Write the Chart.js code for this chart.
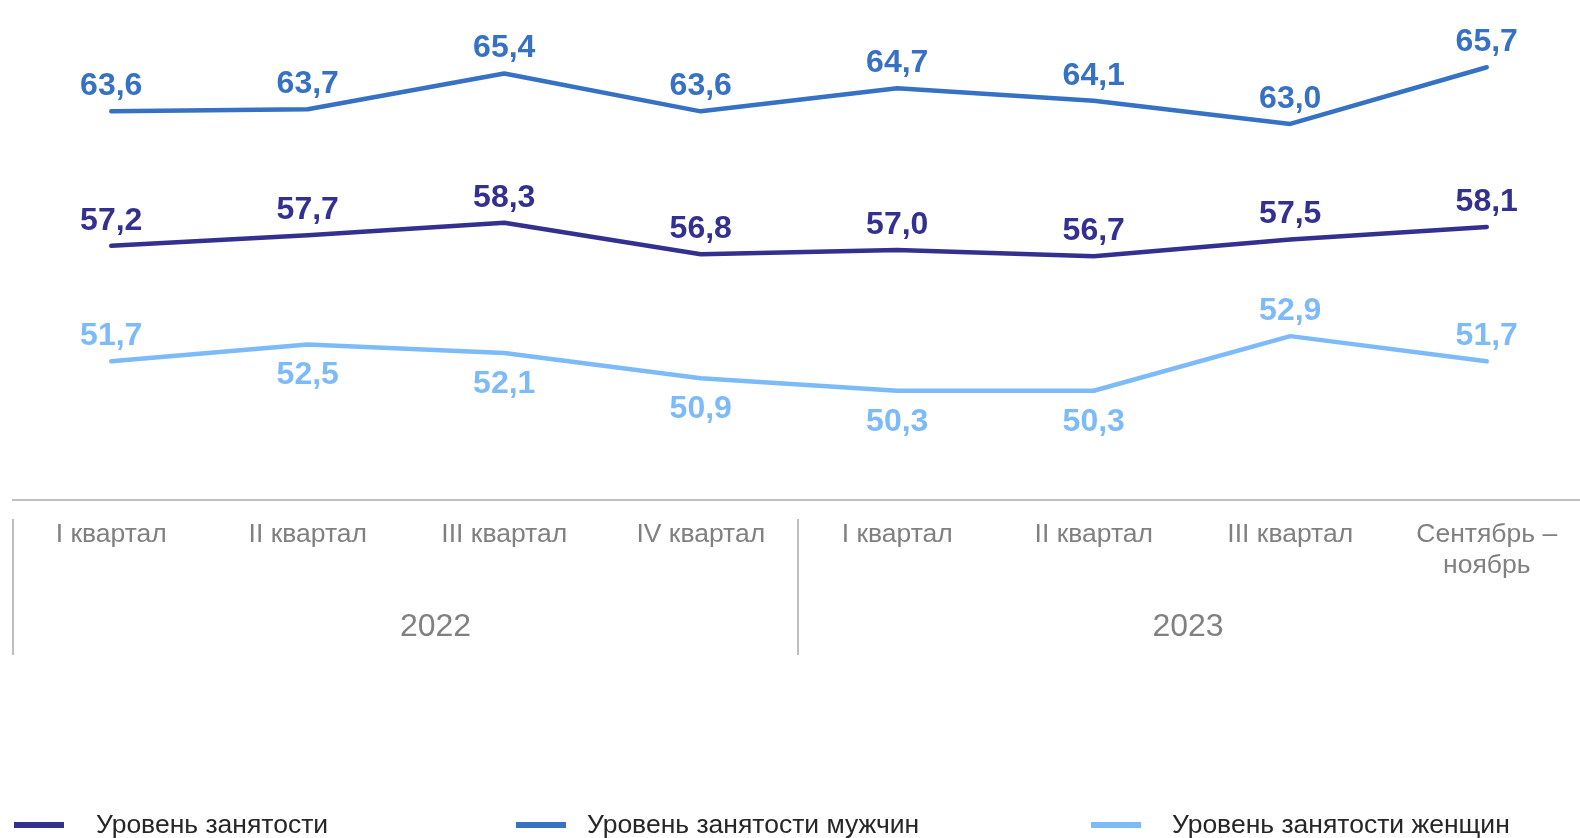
<!DOCTYPE html>
<html>
<head>
<meta charset="utf-8">
<script src="https://cdn.jsdelivr.net/npm/chart.js@4"></script>
<style>
  html, body { margin: 0; padding: 0; background: #fff; overflow: hidden; }
  canvas { display: block; }
</style>
</head>
<body>
<canvas id="chart" width="1585" height="838"></canvas>
<script>
// Categories (quarters) and the year groups they belong to
const categories = [
  'I квартал', 'II квартал', 'III квартал', 'IV квартал',
  'I квартал', 'II квартал', 'III квартал', ['Сентябрь –', 'ноябрь']
];
const years = ['2022', '2023'];
const yearStart = [0, 4];       // first category index of each year
const yearCenter = [1.65, 5.48]; // where the year caption sits, in category units

// Series values, %
const total = [57.2, 57.7, 58.3, 56.8, 57.0, 56.7, 57.5, 58.1];
const men = [63.6, 63.7, 65.4, 63.6, 64.7, 64.1, 63.0, 65.7];
const women = [51.7, 52.5, 52.1, 50.9, 50.3, 50.3, 52.9, 51.7];

const seriesNames = ['Уровень занятости', 'Уровень занятости мужчин', 'Уровень занятости женщин'];
const colors = ['#33308f', '#3671c4', '#7dbaf8'];

// which side of the line each value label goes
const labelSide = [
  ['above', 'above', 'above', 'above', 'above', 'above', 'above', 'above'],
  ['above', 'above', 'above', 'above', 'above', 'above', 'above', 'above'],
  ['above', 'below', 'below', 'below', 'below', 'below', 'above', 'above']
];

const FONT = '"Liberation Sans", Arial, sans-serif';
const fmt = v => v.toFixed(1).replace('.', ',');

// value labels, year captions, group separators and the legend
const extras = {
  id: 'extras',
  afterDatasetsDraw(chart) {
    const ctx = chart.ctx;
    ctx.save();
    ctx.font = 'bold 32px ' + FONT;
    ctx.textAlign = 'center';
    ctx.textBaseline = 'middle';
    chart.data.datasets.forEach((ds, di) => {
      const meta = chart.getDatasetMeta(di);
      ctx.fillStyle = ds.borderColor;
      meta.data.forEach((pt, i) => {
        const side = labelSide[di][i];
        const y = side === 'above' ? pt.y - 25 : pt.y + 31;
        ctx.fillText(fmt(ds.data[i]), pt.x, y);
      });
    });
    ctx.restore();
  },
  afterDraw(chart) {
    const ctx = chart.ctx;
    const x = chart.scales.x;
    const step = x.getPixelForValue(1) - x.getPixelForValue(0);
    ctx.save();
    // separators between years
    ctx.strokeStyle = '#bfbfbf';
    ctx.lineWidth = 2;
    yearStart.forEach(s => {
      const px = Math.round(x.getPixelForValue(s) - step / 2) - (s ? 1 : 0);
      ctx.beginPath();
      ctx.moveTo(px, 519);
      ctx.lineTo(px, 655);
      ctx.stroke();
    });
    // year captions
    ctx.fillStyle = '#808080';
    ctx.font = '32px ' + FONT;
    ctx.textAlign = 'center';
    ctx.textBaseline = 'middle';
    years.forEach((yr, i) => {
      ctx.fillText(yr, x.getPixelForValue(yearCenter[i]), 627);
    });
    // legend
    const swatchX = [14, 516, 1091];
    const textX = [96, 587, 1172];
    ctx.font = '26.5px ' + FONT;
    ctx.textAlign = 'left';
    ctx.textBaseline = 'alphabetic';
    seriesNames.forEach((name, i) => {
      ctx.fillStyle = colors[i];
      ctx.fillRect(swatchX[i], 822, 50, 6);
      ctx.fillStyle = '#262626';
      ctx.fillText(name, textX[i], 833);
    });
    ctx.restore();
  }
};

new Chart(document.getElementById('chart'), {
  type: 'line',
  data: {
    labels: categories,
    datasets: [total, men, women].map((d, i) => ({
      label: seriesNames[i],
      data: d,
      borderColor: colors[i],
      backgroundColor: colors[i],
      borderWidth: 4.5,
      borderCapStyle: 'round',
      borderJoinStyle: 'round',
      pointRadius: 0,
      tension: 0,
      fill: false
    }))
  },
  options: {
    responsive: false,
    animation: false,
    layout: { padding: { left: 13, right: 0, top: 0, bottom: 0 } },
    plugins: {
      legend: { display: false },
      tooltip: { enabled: false }
    },
    scales: {
      x: {
        offset: true,
        grid: { display: false, drawTicks: false },
        border: { display: true, color: '#bfbfbf', width: 2 },
        ticks: {
          autoSkip: false,
          maxRotation: 0,
          padding: 19,
          color: '#808080',
          font: { family: FONT, size: 26.5, lineHeight: 1.17 }
        },
        afterFit(scale) { scale.height = 338; }
      },
      y: {
        display: false,
        min: 45.1,
        max: 68.9
      }
    }
  },
  plugins: [extras]
});
</script>
</body>
</html>
